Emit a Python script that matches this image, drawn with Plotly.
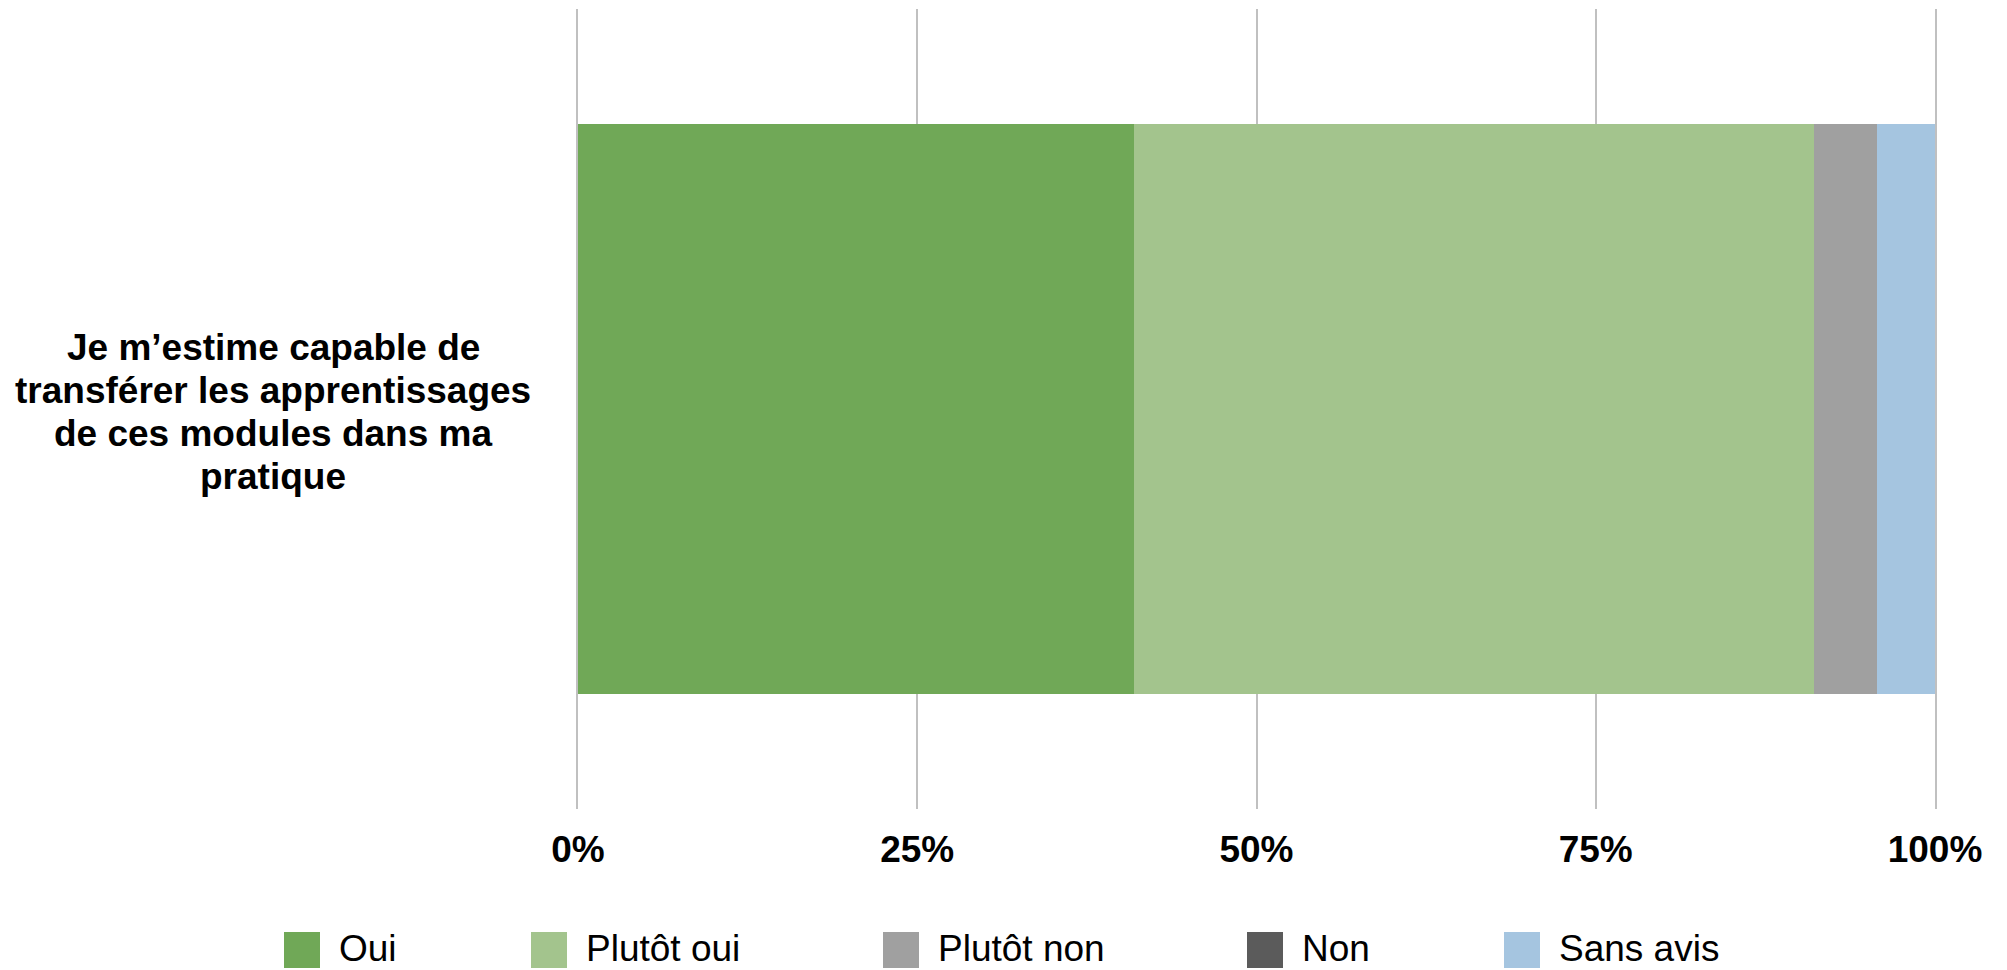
import plotly.graph_objects as go

# ---- data ----
categories = ["Je m’estime capable de<br>transférer les apprentissages<br>de ces modules dans ma<br>pratique"]
series_names = ["Oui", "Plutôt oui", "Plutôt non", "Non", "Sans avis"]
oui = [41.0]
plutot_oui = [50.1]
plutot_non = [4.6]
non = [0.0]
sans_avis = [4.3]
tick_vals = [0, 25, 50, 75, 100]
tick_labels = ["0%", "25%", "50%", "75%", "100%"]

# ---- styles ----
colors = ["#70A857", "#A3C48D", "#A0A0A0", "#5B5B5B", "#A5C5E0"]
GRID = "#C0C0C0"
FONT = "Liberation Sans, Arial, sans-serif"
FS = 37
OFF = 8  # page body margin
W, H = 2007 - OFF, 970 - OFF
ML, MR, MT, MB = 578 - OFF, 72, 9 - OFF, 161
PW, PH = W - ML - MR, H - MT - MB


def px_to_paper_x(px):
    # px given in page coordinates
    return (px - OFF - ML) / PW


def px_to_paper_y(py):
    return (H - MB - (py - OFF)) / PH


values = [oui, plutot_oui, plutot_non, non, sans_avis]

fig = go.Figure()
for name, vals, col in zip(series_names, values, colors):
    fig.add_trace(go.Bar(
        y=categories, x=vals, name=name, orientation="h",
        marker=dict(color=col, line=dict(width=0)),
        showlegend=False,
        hovertemplate=name + ": %{x:.1f}%<extra></extra>",
    ))

# category label (centered, multi-line with tight line spacing)
annotations = []
lines = categories[0].split("<br>")
line_h = 43
for i, ln in enumerate(lines):
    annotations.append(dict(
        x=px_to_paper_x(273), xref="paper", y=categories[0], yref="y",
        text=ln, showarrow=False, xanchor="center", yanchor="middle",
        yshift=-((i - (len(lines) - 1) / 2) * line_h) - 3,
        font=dict(family=FONT, size=FS, color="#000000", weight="bold"),
    ))

# custom legend with large swatches
legend_swatch_px = [284, 531, 883, 1247, 1504]
swatch_size = 36
legend_cy = 948
shapes = []
for name, col, sx in zip(series_names, colors, legend_swatch_px):
    shapes.append(dict(
        type="rect", xref="paper", yref="paper",
        x0=px_to_paper_x(sx), x1=px_to_paper_x(sx + swatch_size),
        y0=px_to_paper_y(legend_cy + 2 + swatch_size / 2), y1=px_to_paper_y(legend_cy + 2 - swatch_size / 2),
        fillcolor=col, line=dict(width=0), layer="above",
    ))
    annotations.append(dict(
        x=px_to_paper_x(sx + 54), xref="paper", y=px_to_paper_y(legend_cy), yref="paper",
        text=name, showarrow=False, xanchor="left", yanchor="middle",
        borderpad=0,
        font=dict(family=FONT, size=FS, color="#000000"),
    ))

fig.update_layout(
    width=W, height=H,
    margin=dict(l=ML, r=MR, t=MT, b=MB, pad=0),
    barmode="stack", bargap=0.288,
    plot_bgcolor="white", paper_bgcolor="white",
    font=dict(family=FONT, size=FS, color="#000000"),
    annotations=annotations, shapes=shapes,
    xaxis=dict(
        range=[0, 100], tickvals=tick_vals, ticktext=tick_labels,
        showgrid=True, gridcolor=GRID, gridwidth=2,
        zeroline=False, showline=False, ticks="",
        tickfont=dict(family=FONT, size=FS, color="#000000", weight="bold"),
        ticklabelstandoff=15, fixedrange=True,
    ),
    yaxis=dict(
        range=[-0.5, 0.5], showticklabels=False, showgrid=False,
        zeroline=False, showline=True, mirror=True, linecolor=GRID, linewidth=2,
        fixedrange=True, layer="below traces",
    ),
)

fig.write_html("out.html")
